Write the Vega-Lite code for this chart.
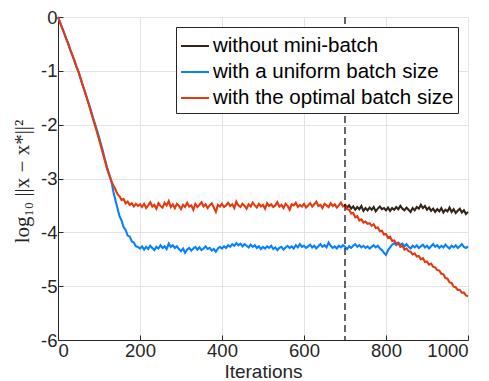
{
  "$schema": "https://vega.github.io/schema/vega-lite/v6.json",
  "width": 410,
  "height": 323,
  "autosize": {"type": "none"},
  "padding": {"left": 58, "top": 17, "right": 21, "bottom": 41},
  "background": "white",
  "config": {
    "view": {"stroke": null},
    "font": "Liberation Sans",
    "axis": {
      "domainColor": "#262626",
      "tickColor": "#262626",
      "labelColor": "#262626",
      "titleColor": "#262626",
      "gridColor": "#e3e3e3",
      "labelFontSize": 18.5,
      "labelFont": "Liberation Sans",
      "titleFontWeight": "normal",
      "tickSize": -5,
      "labelPadding": 6,
      "labelExpr": "'' + datum.value"
    }
  },
  "data": {"values": [
    {"i":0,"o":0,"u":0},{"i":5,"o":-0.10,"u":-0.10},{"i":10,"o":-0.20,"u":-0.20},{"i":15,"o":-0.30,"u":-0.30},{"i":20,"o":-0.40,"u":-0.40},
    {"i":25,"o":-0.50,"u":-0.50},{"i":30,"o":-0.61,"u":-0.61},{"i":35,"o":-0.71,"u":-0.71},{"i":40,"o":-0.81,"u":-0.81},{"i":45,"o":-0.92,"u":-0.92},
    {"i":50,"o":-1.02,"u":-1.02},{"i":55,"o":-1.14,"u":-1.14},{"i":60,"o":-1.26,"u":-1.26},{"i":65,"o":-1.38,"u":-1.37},{"i":70,"o":-1.50,"u":-1.49},
    {"i":75,"o":-1.62,"u":-1.61},{"i":80,"o":-1.75,"u":-1.73},{"i":85,"o":-1.88,"u":-1.86},{"i":90,"o":-2.01,"u":-1.98},{"i":95,"o":-2.14,"u":-2.10},
    {"i":100,"o":-2.27,"u":-2.23},{"i":105,"o":-2.41,"u":-2.37},{"i":110,"o":-2.55,"u":-2.51},{"i":115,"o":-2.69,"u":-2.66},{"i":120,"o":-2.83,"u":-2.80},
    {"i":125,"o":-2.94,"u":-2.92},{"i":130,"o":-3.05,"u":-3.04},{"i":135,"o":-3.13,"u":-3.24},{"i":140,"o":-3.20,"u":-3.40},{"i":145,"o":-3.29,"u":-3.55},
    {"i":150,"o":-3.33,"u":-3.70},{"i":155,"o":-3.40,"u":-3.78},{"i":160,"o":-3.38,"u":-3.90},{"i":165,"o":-3.46,"u":-3.96},{"i":170,"o":-3.43,"u":-4.06},
    {"i":175,"o":-3.49,"u":-4.08},{"i":180,"o":-3.46,"u":-4.17},{"i":185,"o":-3.52,"u":-4.19},{"i":190,"o":-3.47,"u":-4.26},{"i":195,"o":-3.51,"u":-4.27},
    {"i":200,"o":-3.48,"u":-4.30},{"i":205,"o":-3.53,"u":-4.26},{"i":210,"o":-3.47,"u":-4.32},{"i":215,"o":-3.55,"u":-4.27},{"i":220,"o":-3.50,"u":-4.31},
    {"i":225,"o":-3.44,"u":-4.25},{"i":230,"o":-3.52,"u":-4.29},{"i":235,"o":-3.49,"u":-4.33},{"i":240,"o":-3.56,"u":-4.27},{"i":245,"o":-3.46,"u":-4.30},
    {"i":250,"o":-3.51,"u":-4.24},{"i":255,"o":-3.54,"u":-4.29},{"i":260,"o":-3.45,"u":-4.26},{"i":265,"o":-3.50,"u":-4.31},{"i":270,"o":-3.42,"u":-4.21},
    {"i":275,"o":-3.53,"u":-4.27},{"i":280,"o":-3.48,"u":-4.24},{"i":285,"o":-3.55,"u":-4.29},{"i":290,"o":-3.47,"u":-4.26},{"i":295,"o":-3.51,"u":-4.31},
    {"i":300,"o":-3.57,"u":-4.35},{"i":305,"o":-3.49,"u":-4.30},{"i":310,"o":-3.53,"u":-4.38},{"i":315,"o":-3.45,"u":-4.32},{"i":320,"o":-3.52,"u":-4.29},
    {"i":325,"o":-3.50,"u":-4.34},{"i":330,"o":-3.58,"u":-4.30},{"i":335,"o":-3.47,"u":-4.27},{"i":340,"o":-3.53,"u":-4.32},{"i":345,"o":-3.49,"u":-4.28},
    {"i":350,"o":-3.44,"u":-4.33},{"i":355,"o":-3.52,"u":-4.30},{"i":360,"o":-3.48,"u":-4.26},{"i":365,"o":-3.55,"u":-4.31},{"i":370,"o":-3.50,"u":-4.29},
    {"i":375,"o":-3.46,"u":-4.34},{"i":380,"o":-3.54,"u":-4.31},{"i":385,"o":-3.62,"u":-4.36},{"i":390,"o":-3.49,"u":-4.30},{"i":395,"o":-3.52,"u":-4.27},
    {"i":400,"o":-3.47,"u":-4.30},{"i":405,"o":-3.53,"u":-4.26},{"i":410,"o":-3.50,"u":-4.29},{"i":415,"o":-3.45,"u":-4.24},{"i":420,"o":-3.51,"u":-4.27},
    {"i":425,"o":-3.48,"u":-4.22},{"i":430,"o":-3.55,"u":-4.25},{"i":435,"o":-3.43,"u":-4.20},{"i":440,"o":-3.50,"u":-4.24},{"i":445,"o":-3.53,"u":-4.21},
    {"i":450,"o":-3.47,"u":-4.26},{"i":455,"o":-3.51,"u":-4.22},{"i":460,"o":-3.56,"u":-4.25},{"i":465,"o":-3.48,"u":-4.28},{"i":470,"o":-3.52,"u":-4.23},
    {"i":475,"o":-3.45,"u":-4.27},{"i":480,"o":-3.50,"u":-4.24},{"i":485,"o":-3.54,"u":-4.29},{"i":490,"o":-3.47,"u":-4.26},{"i":495,"o":-3.52,"u":-4.31},
    {"i":500,"o":-3.49,"u":-4.27},{"i":505,"o":-3.56,"u":-4.30},{"i":510,"o":-3.46,"u":-4.26},{"i":515,"o":-3.51,"u":-4.29},{"i":520,"o":-3.48,"u":-4.25},
    {"i":525,"o":-3.53,"u":-4.31},{"i":530,"o":-3.50,"u":-4.28},{"i":535,"o":-3.44,"u":-4.33},{"i":540,"o":-3.52,"u":-4.29},{"i":545,"o":-3.49,"u":-4.27},
    {"i":550,"o":-3.55,"u":-4.32},{"i":555,"o":-3.47,"u":-4.28},{"i":560,"o":-3.51,"u":-4.25},{"i":565,"o":-3.58,"u":-4.29},{"i":570,"o":-3.48,"u":-4.26},
    {"i":575,"o":-3.50,"u":-4.30},{"i":580,"o":-3.45,"u":-4.24},{"i":585,"o":-3.53,"u":-4.28},{"i":590,"o":-3.49,"u":-4.22},{"i":595,"o":-3.52,"u":-4.27},
    {"i":600,"o":-3.47,"u":-4.25},{"i":605,"o":-3.54,"u":-4.29},{"i":610,"o":-3.50,"u":-4.26},{"i":615,"o":-3.46,"u":-4.23},{"i":620,"o":-3.52,"u":-4.28},
    {"i":625,"o":-3.48,"u":-4.25},{"i":630,"o":-3.43,"u":-4.30},{"i":635,"o":-3.51,"u":-4.26},{"i":640,"o":-3.49,"u":-4.22},{"i":645,"o":-3.55,"u":-4.27},
    {"i":650,"o":-3.47,"u":-4.24},{"i":655,"o":-3.50,"u":-4.28},{"i":660,"o":-3.53,"u":-4.19},{"i":665,"o":-3.46,"u":-4.25},{"i":670,"o":-3.51,"u":-4.29},
    {"i":675,"o":-3.48,"u":-4.26},{"i":680,"o":-3.54,"u":-4.30},{"i":685,"o":-3.50,"u":-4.25},{"i":690,"o":-3.45,"u":-4.28},{"i":695,"o":-3.52,"u":-4.24},
    {"i":700,"o":-3.49,"u":-4.27,"k":-3.49},{"i":705,"o":-3.57,"u":-4.31,"k":-3.54},{"i":710,"o":-3.58,"u":-4.26,"k":-3.50},{"i":715,"o":-3.65,"u":-4.29,"k":-3.56},{"i":720,"o":-3.64,"u":-4.25,"k":-3.52},
    {"i":725,"o":-3.72,"u":-4.22,"k":-3.58},{"i":730,"o":-3.70,"u":-4.27,"k":-3.53},{"i":735,"o":-3.78,"u":-4.24,"k":-3.57},{"i":740,"o":-3.76,"u":-4.28,"k":-3.51},{"i":745,"o":-3.82,"u":-4.25,"k":-3.60},
    {"i":750,"o":-3.80,"u":-4.29,"k":-3.55},{"i":755,"o":-3.84,"u":-4.26,"k":-3.59},{"i":760,"o":-3.83,"u":-4.30,"k":-3.54},{"i":765,"o":-3.88,"u":-4.27,"k":-3.58},{"i":770,"o":-3.85,"u":-4.24,"k":-3.53},
    {"i":775,"o":-3.92,"u":-4.28,"k":-3.61},{"i":780,"o":-3.91,"u":-4.25,"k":-3.56},{"i":785,"o":-3.98,"u":-4.30,"k":-3.52},{"i":790,"o":-3.97,"u":-4.33,"k":-3.57},{"i":795,"o":-4.04,"u":-4.38,"k":-3.55},
    {"i":800,"o":-4.03,"u":-4.42,"k":-3.59},{"i":805,"o":-4.10,"u":-4.33,"k":-3.54},{"i":810,"o":-4.08,"u":-4.28,"k":-3.60},{"i":815,"o":-4.16,"u":-4.23,"k":-3.55},{"i":820,"o":-4.15,"u":-4.20,"k":-3.58},
    {"i":825,"o":-4.21,"u":-4.24,"k":-3.53},{"i":830,"o":-4.20,"u":-4.19,"k":-3.57},{"i":835,"o":-4.27,"u":-4.23,"k":-3.51},{"i":840,"o":-4.25,"u":-4.21,"k":-3.56},{"i":845,"o":-4.32,"u":-4.26,"k":-3.59},
    {"i":850,"o":-4.30,"u":-4.22,"k":-3.54},{"i":855,"o":-4.35,"u":-4.27,"k":-3.58},{"i":860,"o":-4.36,"u":-4.30,"k":-3.62},{"i":865,"o":-4.41,"u":-4.25,"k":-3.55},{"i":870,"o":-4.39,"u":-4.28,"k":-3.59},
    {"i":875,"o":-4.45,"u":-4.24,"k":-3.53},{"i":880,"o":-4.44,"u":-4.29,"k":-3.56},{"i":885,"o":-4.50,"u":-4.26,"k":-3.49},{"i":890,"o":-4.48,"u":-4.23,"k":-3.55},{"i":895,"o":-4.55,"u":-4.28,"k":-3.51},
    {"i":900,"o":-4.54,"u":-4.25,"k":-3.58},{"i":905,"o":-4.60,"u":-4.30,"k":-3.54},{"i":910,"o":-4.58,"u":-4.26,"k":-3.60},{"i":915,"o":-4.64,"u":-4.22,"k":-3.56},{"i":920,"o":-4.65,"u":-4.27,"k":-3.62},
    {"i":925,"o":-4.70,"u":-4.24,"k":-3.57},{"i":930,"o":-4.71,"u":-4.29,"k":-3.61},{"i":935,"o":-4.77,"u":-4.25,"k":-3.55},{"i":940,"o":-4.78,"u":-4.28,"k":-3.63},{"i":945,"o":-4.85,"u":-4.23,"k":-3.58},
    {"i":950,"o":-4.86,"u":-4.27,"k":-3.61},{"i":955,"o":-4.93,"u":-4.30,"k":-3.54},{"i":960,"o":-4.94,"u":-4.25,"k":-3.62},{"i":965,"o":-5.01,"u":-4.28,"k":-3.57},{"i":970,"o":-5.02,"u":-4.24,"k":-3.64},
    {"i":975,"o":-5.07,"u":-4.29,"k":-3.60},{"i":980,"o":-5.07,"u":-4.26,"k":-3.56},{"i":985,"o":-5.12,"u":-4.22,"k":-3.63},{"i":990,"o":-5.12,"u":-4.27,"k":-3.59},{"i":995,"o":-5.17,"u":-4.29,"k":-3.66},
    {"i":1000,"o":-5.19,"u":-4.26,"k":-3.62}
  ]},
  "transform": [
    {"fold": ["k", "u", "o"], "as": ["s", "v"]},
    {"filter": "datum.v != null"}
  ],
  "encoding": {
    "x": {
      "field": "i", "type": "quantitative",
      "scale": {"domain": [0, 1000], "nice": false},
      "axis": {"values": [0, 200, 400, 600, 800, 1000], "title": "Iterations", "titleFontSize": 19, "titleFont": "Liberation Sans", "titleBaseline": "alphabetic", "titleY": 37}
    },
    "y": {
      "field": "v", "type": "quantitative",
      "scale": {"domain": [-6, 0], "nice": false},
      "axis": {"values": [-6, -5, -4, -3, -2, -1, 0], "title": "log₁₀ ||x − x*||²", "titleFont": "Liberation Serif", "titleFontSize": 21, "titleX": -36, "titleY": 164, "titleBaseline": "middle"}
    },
    "color": {
      "field": "s", "type": "nominal",
      "scale": {"domain": ["k", "u", "o"], "range": ["#33241a", "#0a80ff", "#e5390e"]},
      "legend": {
        "title": null, "orient": "none", "legendX": 118, "legendY": 10,
        "labelExpr": "datum.label == 'k' ? 'without mini-batch' : datum.label == 'u' ? 'with a uniform batch size' : 'with the optimal batch size'",
        "symbolType": "stroke", "symbolSize": 784, "symbolStrokeWidth": 2,
        "labelFontSize": 20.5, "labelFont": "Liberation Sans", "labelColor": "#000000", "labelOffset": 3, "labelLimit": 400,
        "rowPadding": -1, "padding": 4, "strokeColor": "#262626", "fillColor": "white"
      }
    }
  },
  "layer": [
    {"transform": [{"filter": "datum.s == 'k'"}], "mark": {"type": "line", "strokeWidth": 2.1}},
    {"transform": [{"filter": "datum.s == 'u'"}], "mark": {"type": "line", "strokeWidth": 2.1}},
    {"transform": [{"filter": "datum.s == 'o'"}], "mark": {"type": "line", "strokeWidth": 2.1}},
    {
      "data": {"values": [{"x": 700}]},
      "transform": [],
      "mark": {"type": "rule", "color": "black", "strokeWidth": 1.2, "strokeDash": [7, 4]},
      "encoding": {"x": {"field": "x", "type": "quantitative"}, "y": null, "color": null}
    }
  ]
}
